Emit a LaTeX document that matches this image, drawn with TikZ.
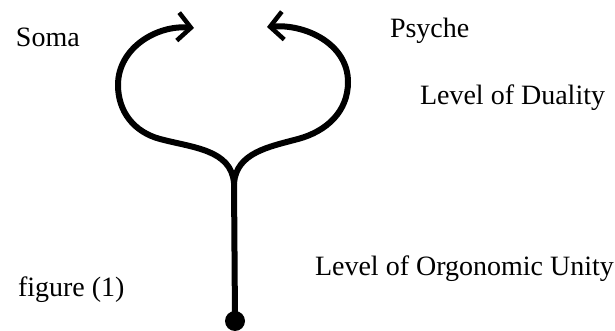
\documentclass[tikz,border=0pt]{standalone}
\usepackage{fontspec}
\setmainfont{Liberation Serif}
\usetikzlibrary{arrows.meta}

\begin{document}
\begin{tikzpicture}[x=1pt, y=1pt, line width=6pt, line cap=round,
  every node/.style={inner sep=0pt},
  label/.style={anchor=base west, font=\fontsize{28}{30}\selectfont},
  barb/.style={-{Straight Barb[length=13pt, width=28pt, line width=4.5pt]}}]

\useasboundingbox (0,0) rectangle (615,331);

% Nodes

\coordinate (J) at (234,148);
\coordinate (L1) at (160,192);
\coordinate (L2) at (118,246);
\coordinate (LT) at (194,303);
\coordinate (R1) at (298,192);
\coordinate (R2) at (348,249);
\coordinate (RT) at (267,304);
\node[circle, fill=black, minimum size=20pt] (D) at (235,10) {};

% Edges
\draw (J) -- (D.center);

\draw[barb] (J) to[out=95, in=-15] (L1) to[out=165, in=-90] (L2)
  to[out=90, in=175] (LT);
\draw[barb] (J) to[out=85, in=195] (R1) to[out=15, in=-90] (R2)
  to[out=90, in=5] (RT);

% Labels
\node[label] (soma) at (13,284) {Soma};
\node[label] (psyche) at (387,293) {Psyche};
\node[label] (duality) at (417,226) {Level of Duality};
\node[label] (unity) at (312,55) {Level of Orgonomic Unity};
\node[label] (fig) at (15,34) {figure (1)};

\end{tikzpicture}
\end{document}
